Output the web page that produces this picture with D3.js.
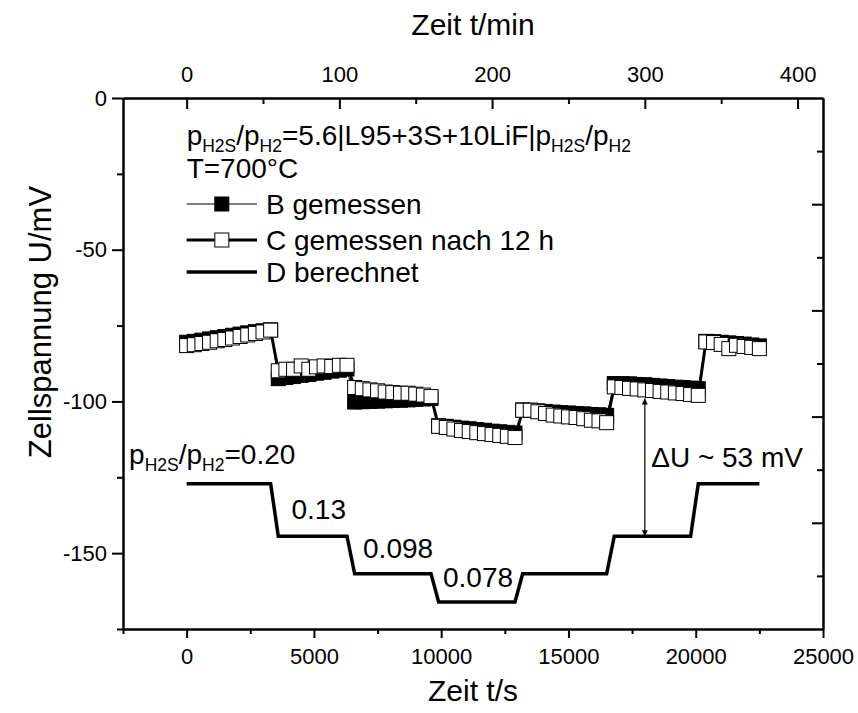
<!DOCTYPE html>
<html><head><meta charset="utf-8">
<script src="https://cdn.jsdelivr.net/npm/d3@7/dist/d3.min.js"></script>
<style>
body{margin:0;background:#fff;}
svg{display:block;}
text{font-family:"Liberation Sans",Arial,sans-serif;fill:#000;}
</style>
</head><body>
<svg id="chart" width="858" height="713"></svg>
<script>
// ---- data ----
const timeS = [
  0,300,600,900,1200,1500,1800,2100,2400,2700,3000,3300,
  3600,3900,4200,4500,4800,5100,5400,5700,6000,6300,
  6600,6900,7200,7500,7800,8100,8400,8700,9000,9300,9600,
  9900,10200,10500,10800,11100,11400,11700,12000,12300,12600,12900,
  13200,13500,13800,14100,14400,14700,15000,15300,15600,15900,16200,16500,
  16800,17100,17400,17700,18000,18300,18600,18900,19200,19500,19800,20100,
  20400,20700,21000,21300,21600,21900,22200,22500
];
const bGemessen = [
  -80.5,-80.2,-79.8,-79.4,-79.0,-78.6,-78.2,-77.8,-77.4,-77.0,-76.7,-76.4,
  -92.5,-92.1,-91.8,-91.4,-91.1,-90.7,-90.4,-90.0,-89.7,-89.3,
  -100.2,-100.1,-100.0,-99.9,-99.8,-99.7,-99.6,-99.5,-99.3,-99.2,-99.0,
  -108.0,-108.2,-108.5,-108.8,-109.0,-109.3,-109.5,-109.8,-110.0,-110.2,-110.4,
  -102.8,-102.9,-103.1,-103.3,-103.5,-103.7,-103.8,-104.0,-104.1,-104.3,-104.4,-104.6,
  -94.1,-94.2,-94.2,-94.4,-94.5,-94.7,-94.9,-95.1,-95.3,-95.4,-95.6,-95.8,
  -80.2,-80.3,-80.5,-80.7,-80.9,-81.1,-81.4,-81.7
];
const cGemessen = [
  -81.6,-81.3,-80.9,-80.5,-80.0,-79.6,-79.1,-78.6,-78.1,-77.6,-77.1,-76.5,
  -89.9,-89.4,-89.4,-88.3,-89.4,-88.6,-88.3,-88.5,-88.1,-88.1,
  -95.4,-95.8,-96.2,-96.5,-96.9,-97.1,-97.3,-97.3,-97.6,-97.9,-98.4,
  -108.2,-108.6,-109.1,-109.6,-109.9,-110.3,-110.6,-110.9,-111.2,-111.5,-111.9,
  -102.9,-102.9,-103.4,-104.0,-104.5,-104.8,-105.1,-105.3,-105.7,-106.2,-106.4,-107.0,
  -95.2,-95.4,-95.7,-95.9,-96.2,-96.4,-96.7,-96.9,-97.2,-97.4,-97.7,-98.0,
  -80.4,-80.6,-81.2,-82.6,-81.5,-81.9,-82.2,-82.6
];
const dTime = [0,3300,3600,6300,6600,9600,9900,12900,13200,16500,16800,19800,20100,22500];
const dBerechnet = [-127.1,-127.1,-144.4,-144.4,-156.8,-156.8,-166.1,-166.1,-156.8,-156.8,-144.4,-144.4,-127.1,-127.1];
const xTicks = [0,5000,10000,15000,20000,25000];
const xMinorTicks = [-2500,2500,7500,12500,17500,22500];
const yTicks = [0,-50,-100,-150];
const yMinorTicks = [-25,-75,-125,-175];
const topTicks = [0,100,200,300,400];
const topMinorTicks = [50,150,250,350];
const stepLabels = ["0.13","0.098","0.078"];
const stepLabelAt = [[4120,-138.6],[6930,-151.5],[10070,-161.2]];
const deltaAt = [18000,-99.0,-144.4];

// ---- layout ----
const svg = d3.select("#chart");
const L = 123, R = 823, T = 98, B = 629;
const x = d3.scaleLinear().domain([-2500,25000]).range([L,R]);
const y = d3.scaleLinear().domain([0,-175]).range([T,B]);
const xTop = d3.scaleLinear().domain([-2500/60,25000/60]).range([L,R]);
const yRight = d3.scaleLinear().domain([0,10]).range([T,B]);

const defs = svg.append("defs");
defs.append("marker").attr("id","ah").attr("viewBox","0 0 10 10").attr("refX",10).attr("refY",5)
  .attr("markerWidth",10).attr("markerHeight",6).attr("markerUnits","userSpaceOnUse").attr("orient","auto-start-reverse")
  .append("path").attr("d","M0,0 L10,5 L0,10 Z").attr("fill","#000");

function styleAxis(g){
  g.select(".domain").attr("stroke","#000").attr("stroke-width",2);
  g.selectAll(".tick line").attr("stroke","#000").attr("stroke-width",2);
  g.selectAll("text").style("font-size","22px").attr("fill","#000");
}
// bottom
svg.append("g").attr("transform",`translate(0,${B})`)
  .call(d3.axisBottom(x).tickValues(xMinorTicks).tickSize(5).tickFormat("").tickSizeOuter(0)).call(styleAxis);
svg.append("g").attr("transform",`translate(0,${B})`)
  .call(d3.axisBottom(x).tickValues(xTicks).tickSize(9).tickSizeOuter(0).tickFormat(d3.format("d"))).call(styleAxis)
  .selectAll("text").attr("y",19);
// top
svg.append("g").attr("transform",`translate(0,${T})`)
  .call(d3.axisTop(xTop).tickValues(topMinorTicks).tickSize(-6).tickFormat("").tickSizeOuter(0)).call(styleAxis);
svg.append("g").attr("transform",`translate(0,${T})`)
  .call(d3.axisTop(xTop).tickValues(topTicks).tickSize(-11).tickSizeOuter(0).tickPadding(16).tickFormat(d3.format("d"))).call(styleAxis);
// left
svg.append("g").attr("transform",`translate(${L},0)`)
  .call(d3.axisLeft(y).tickValues(yMinorTicks).tickSize(6).tickFormat("").tickSizeOuter(0)).call(styleAxis);
svg.append("g").attr("transform",`translate(${L},0)`)
  .call(d3.axisLeft(y).tickValues(yTicks).tickSize(11).tickPadding(5).tickSizeOuter(0).tickFormat(d=>d===0?"0":d3.format("d")(d).replace("\u2212","-"))).call(styleAxis);
// right
svg.append("g").attr("transform",`translate(${R},0)`)
  .call(d3.axisRight(yRight).tickValues([1,3,5,7,9]).tickSize(-6).tickFormat("").tickSizeOuter(0)).call(styleAxis);
svg.append("g").attr("transform",`translate(${R},0)`)
  .call(d3.axisRight(yRight).tickValues([2,4,6,8]).tickSize(-11).tickFormat("").tickSizeOuter(0)).call(styleAxis);

// axis titles
svg.append("text").attr("x",(L+R)/2).attr("y",35).attr("text-anchor","middle").style("font-size","30px").text("Zeit t/min");
svg.append("text").attr("x",(L+R)/2).attr("y",701).attr("text-anchor","middle").style("font-size","30px").text("Zeit t/s");
svg.append("text").attr("transform",`translate(51,322) rotate(-90)`).attr("text-anchor","middle").style("font-size","31px").text("Zellspannung U/mV");

// D line
const dData = dTime.map((t,i)=>({t, v:dBerechnet[i]}));
const line = d3.line().x(d=>x(d.t)).y(d=>y(d.v));
svg.append("path").datum(dData).attr("d",line).attr("fill","none").attr("stroke","#000").attr("stroke-width",3.5).attr("stroke-linejoin","miter");

// B series
const bData = timeS.map((t,i)=>({t, v:bGemessen[i]}));
const cData = timeS.map((t,i)=>({t, v:cGemessen[i]}));
const S = 14;
svg.append("path").datum(bData).attr("d",line).attr("fill","none").attr("stroke","#000").attr("stroke-width",1);
svg.append("g").selectAll("rect").data(bData).join("rect")
  .attr("x",d=>x(d.t)-S/2).attr("y",d=>y(d.v)-S/2).attr("width",S).attr("height",S)
  .attr("fill","#000").attr("stroke","#000").attr("stroke-width",1);
// C series
svg.append("path").datum(cData).attr("d",line).attr("fill","none").attr("stroke","#000").attr("stroke-width",3);
svg.append("g").selectAll("rect").data(cData).join("rect")
  .attr("x",d=>x(d.t)-S/2).attr("y",d=>y(d.v)-S/2).attr("width",S).attr("height",S)
  .attr("fill","#fff").attr("stroke","#000").attr("stroke-width",1);

// rich text with subscripts
function rich(xp, yp, parts, size, sub){
  const t = svg.append("text").attr("x",xp).attr("y",yp).style("font-size",size+"px");
  let shifted = false;
  parts.forEach(p=>{
    const isSub = p.startsWith("_");
    const s = t.append("tspan").text(isSub?p.slice(1):p);
    if(isSub){ s.style("font-size",sub+"px").attr("dy",shifted?0:7); shifted=true; }
    else { s.attr("dy",shifted?-7:0); shifted=false; }
  });
  return t;
}
rich(x(0), 145, ["p","_H2S","/p","_H2","=5.6|L95+3S+10LiF|p","_H2S","/p","_H2"], 28, 17.5);
svg.append("text").attr("x",x(0)).attr("y",178).style("font-size","28px").text("T=700°C");

// legend
const legX0 = x(0), legX1 = 257, legMid = (legX0+legX1)/2;
const legRows = [
  {y:204, text:"B gemessen", lw:1, fill:"#000", sym:true},
  {y:240, text:"C gemessen nach 12 h", lw:3, fill:"#fff", sym:true},
  {y:272, text:"D berechnet", lw:3.5, fill:null, sym:false}
];
legRows.forEach(r=>{
  svg.append("line").attr("x1",legX0).attr("x2",legX1).attr("y1",r.y).attr("y2",r.y).attr("stroke","#000").attr("stroke-width",r.lw);
  if(r.sym) svg.append("rect").attr("x",legMid-S/2).attr("y",r.y-S/2).attr("width",S).attr("height",S).attr("fill",r.fill).attr("stroke","#000").attr("stroke-width",1);
  svg.append("text").attr("x",266).attr("y",r.y+9.5).style("font-size","28px").text(r.text);
});

// step labels
rich(x(-2260), y(-120.5), ["p","_H2S","/p","_H2","=0.20"], 28, 17.5);
stepLabels.forEach((s,i)=>{
  svg.append("text").attr("x",x(stepLabelAt[i][0])).attr("y",y(stepLabelAt[i][1])).style("font-size","28px").text(s);
});

// delta U arrow
svg.append("line").attr("x1",x(deltaAt[0])).attr("x2",x(deltaAt[0])).attr("y1",y(deltaAt[1])).attr("y2",y(deltaAt[2]))
  .attr("stroke","#000").attr("stroke-width",1.2).attr("marker-start","url(#ah)").attr("marker-end","url(#ah)");
svg.append("text").attr("x",x(18250)).attr("y",y(-121.5)).style("font-size","28px").text("\u0394U ~ 53 mV");
</script>
</body></html>
